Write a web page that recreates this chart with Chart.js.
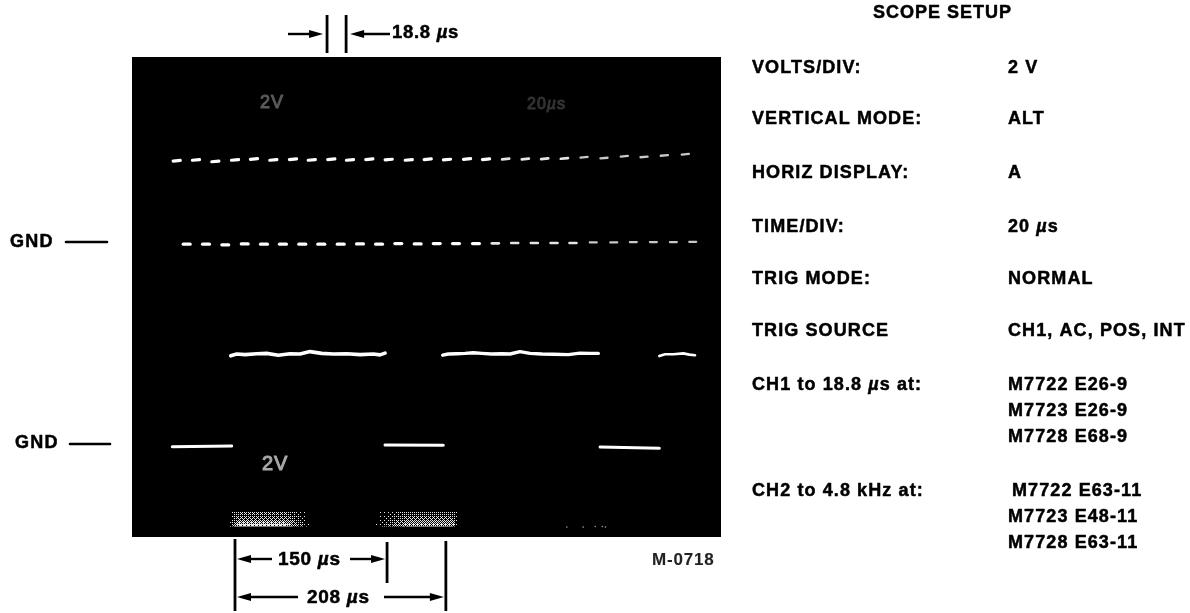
<!DOCTYPE html>
<html>
<head>
<meta charset="utf-8">
<style>
  html, body { margin: 0; padding: 0; background: #fff; overflow: hidden; }
  canvas { display: block; }
</style>
<script src="https://cdn.jsdelivr.net/npm/chart.js@4"></script>
</head>
<body>
<canvas id="myChart" width="1190" height="613"></canvas>
<script>
// CH1 square wave on the top, 18.8 us ticks (dash centres in us, levels in V)
const ch1HighTimes = [45.1, 64.1, 83.2, 102.6, 121.3, 140.4, 159.8, 178.3, 197.6, 216, 235.1, 254.2, 274, 292.7, 311.7, 331.5, 350.2, 369.6, 389, 408.1, 427.5, 446.9, 466.6, 486.6, 506.1, 526.1, 546.8];
const ch1HighVolts = [12.54, 12.57, 12.52, 12.57, 12.6, 12.57, 12.59, 12.57, 12.59, 12.57, 12.59, 12.58, 12.57, 12.59, 12.58, 12.6, 12.59, 12.6, 12.6, 12.61, 12.62, 12.66, 12.63, 12.69, 12.67, 12.72, 12.76];
const ch1LowTimes = [54.9, 74, 93, 112.2, 131.2, 149.9, 169, 187.7, 206.9, 225.9, 244.7, 263.7, 282.8, 301.6, 320.6, 340.3, 359.4, 378.5, 397.9, 417.3, 436, 456, 476.2, 495.5, 515.3, 535, 554.1];
const ch1LowVolts = [9.76, 9.76, 9.74, 9.77, 9.76, 9.76, 9.76, 9.76, 9.76, 9.77, 9.76, 9.78, 9.77, 9.78, 9.78, 9.78, 9.79, 9.8, 9.8, 9.8, 9.8, 9.82, 9.82, 9.83, 9.83, 9.83, 9.84];

// CH2 pulses, high parts are a bit wavy
const pulse1Times = [98.4, 104.3, 112.5, 124, 133.9, 145.3, 156.9, 166.7, 176.6, 188.1, 199.6, 212.8, 225.9, 239, 245.6, 250.6];
const pulse1Volts = [6.04, 6.1, 6.08, 6.11, 6.12, 6.06, 6.11, 6.1, 6.18, 6.12, 6.1, 6.11, 6.08, 6.1, 6.07, 6.13];
const pulse2Times = [307.5, 313, 321.3, 329.5, 337.7, 346, 355.8, 365.7, 373.9, 383.7, 393.6, 405.2, 416.6, 431.4, 442.9, 452.8, 461];
const pulse2Volts = [6.06, 6.1, 6.11, 6.12, 6.14, 6.12, 6.1, 6.11, 6.1, 6.18, 6.12, 6.1, 6.09, 6.08, 6.13, 6.12, 6.12];
const pulse3Times = [521.2, 526.8, 535, 544.8, 550.8, 556.4];
const pulse3Volts = [6.03, 6.09, 6.09, 6.12, 6.08, 6.06];

const low1Times = [40.7, 99.3];
const low1Volts = [3.01, 3.03];
const low2Times = [250.6, 308.1];
const low2Volts = [3.07, 3.06];
const low3Times = [462.7, 521.2];
const low3Volts = [3.0, 2.96];

// smeared patches at the bottom of the screen
const band1Times = [96, 176];
const band2Times = [240, 322];
const bandLowVolts = [0.35, 0.35];
const bandHighVolts = [0.83, 0.83];
const speckTimes = [430, 446, 458, 465, 468];
const speckVolts = [0.33, 0.33, 0.35, 0.35, 0.33];

const markEdge = 102.6;
const markWidths = [150, 208];
const tickEdge = 193.4;
const tickWidth = 18.8;

const setupTitle = 'SCOPE SETUP';
const setupLabels = ['VOLTS/DIV:', 'VERTICAL MODE:', 'HORIZ DISPLAY:', 'TIME/DIV:', 'TRIG MODE:', 'TRIG SOURCE', 'CH1 to 18.8 µs at:', 'CH2 to 4.8 kHz at:'];
const setupValues = ['2 V', 'ALT', 'A', '20 µs', 'NORMAL', 'CH1, AC, POS, INT', 'M7722 E26-9', 'M7723 E26-9', 'M7728 E68-9', 'M7722 E63-11', 'M7723 E48-11', 'M7728 E63-11'];
const labelRows = [68, 119, 173, 227, 279, 331, 385, 491];
const valueRows = [68, 119, 173, 227, 279, 331, 385, 411, 437, 491, 517, 543];

function points(times, volts) {
    return times.map((t, i) => ({ x: t, y: volts[i] }));
}

// every tick becomes a short line with a gap behind it
function dashes(times, volts, half, tilt) {
    const out = [];
    times.forEach((t, i) => {
        out.push({ x: t - half, y: volts[i] - tilt });
        out.push({ x: t + half, y: volts[i] + tilt });
        out.push({ x: t, y: null });
    });
    return out;
}

function trace(data, width, extra) {
    return Object.assign({
        data: data,
        borderColor: '#fff',
        borderWidth: width,
        borderCapStyle: 'round',
        borderJoinStyle: 'round',
        pointRadius: 0,
        tension: 0,
        spanGaps: false,
        fill: false
    }, extra || {});
}

// right side of the CH1 ticks is fainter on the photo
const fading = {
    borderColor: c => c.p0.parsed.x > 440 ? '#c8c8c8' : c.p0.parsed.x > 350 ? '#e4e4e4' : '#fff',
    borderWidth: c => c.p0.parsed.x > 440 ? 2.3 : c.p0.parsed.x > 350 ? 2.7 : 3.2
};

const bayer = [[0, 8, 2, 10], [12, 4, 14, 6], [3, 11, 1, 9], [15, 7, 13, 5]];

// screened patch: ordered dither, brighter to the bottom, fades at the sides
function screenFill(times, fadeIn, fadeOut, level) {
    let pattern = null;
    return c => {
        const chart = c.chart;
        if (!chart.chartArea) return '#888';
        if (pattern) return pattern;
        const left = chart.scales.x.getPixelForValue(times[0]);
        const right = chart.scales.x.getPixelForValue(times[1]);
        const top = chart.scales.y.getPixelForValue(bandHighVolts[0]);
        const bottom = chart.scales.y.getPixelForValue(bandLowVolts[0]);
        const cv = document.createElement('canvas');
        cv.width = chart.width;
        cv.height = chart.height;
        const px = cv.getContext('2d');
        for (let y = Math.floor(top); y <= Math.ceil(bottom); y++) {
            for (let x = Math.floor(left); x <= Math.ceil(right); x++) {
                const u = (x - left) / (right - left);
                const k = (y - top) / (bottom - top);
                const side = Math.max(0, Math.min(1, u / fadeIn, (1 - u) / fadeOut));
                const amount = side * level * (0.3 + 0.7 * k * k);
                if (amount * 16 > bayer[y % 4][x % 4] + 0.5) {
                    px.fillStyle = '#e8e8e8';
                    px.fillRect(x, y, 1, 1);
                }
            }
        }
        pattern = chart.ctx.createPattern(cv, 'no-repeat');
        return pattern;
    };
}

function band(times, fadeIn, fadeOut, level) {
    const edge = { borderWidth: 0, pointRadius: 0 };
    return [
        Object.assign({ data: points(times, bandHighVolts), fill: '+1', backgroundColor: screenFill(times, fadeIn, fadeOut, level) }, edge),
        Object.assign({ data: points(times, bandLowVolts), fill: false }, edge)
    ];
}

// text with an italic mu, like the original lettering
function drawText(ctx, text, x, y, size, spacing, opts) {
    const o = opts || {};
    const weight = o.weight || 'bold';
    ctx.fillStyle = o.color || '#000';
    ctx.strokeStyle = o.color || '#000';
    ctx.lineWidth = o.stroke === undefined ? 0.5 : o.stroke;
    ctx.lineJoin = 'round';
    ctx.textAlign = 'left';
    ctx.textBaseline = 'middle';
    ctx.letterSpacing = spacing + 'px';
    let pos = x;
    text.split(/(µ)/).forEach(part => {
        if (!part) return;
        ctx.font = (part === 'µ' ? 'italic ' : '') + weight + ' ' + size + 'px "Liberation Sans"';
        ctx.fillText(part, pos, y);
        if (ctx.lineWidth > 0) ctx.strokeText(part, pos, y);
        pos += ctx.measureText(part).width;
    });
    ctx.letterSpacing = '0px';
}

function arrow(ctx, from, tip, y) {
    const dir = tip > from ? 1 : -1;
    ctx.strokeStyle = '#000';
    ctx.lineWidth = 2.4;
    ctx.beginPath();
    ctx.moveTo(from, y);
    ctx.lineTo(tip - dir * 6, y);
    ctx.stroke();
    ctx.fillStyle = '#000';
    ctx.beginPath();
    ctx.moveTo(tip, y);
    ctx.lineTo(tip - dir * 14, y - 4);
    ctx.lineTo(tip - dir * 14, y + 4);
    ctx.closePath();
    ctx.fill();
}

function vline(ctx, x, y0, y1) {
    ctx.strokeStyle = '#000';
    ctx.lineWidth = 2.8;
    ctx.beginPath();
    ctx.moveTo(x, y0);
    ctx.lineTo(x, y1);
    ctx.stroke();
}

function hline(ctx, x0, x1, y) {
    ctx.strokeStyle = '#000';
    ctx.lineWidth = 2.6;
    ctx.lineCap = 'round';
    ctx.beginPath();
    ctx.moveTo(x0, y);
    ctx.lineTo(x1, y);
    ctx.stroke();
    ctx.lineCap = 'butt';
}

const screenPlugin = {
    id: 'screen',
    beforeDraw(chart) {
        const a = chart.chartArea;
        chart.ctx.fillStyle = '#000';
        chart.ctx.fillRect(a.left, a.top, a.right - a.left, a.bottom - a.top);
    },
    afterDraw(chart) {
        const ctx = chart.ctx;
        const x = chart.scales.x;
        ctx.save();

        // readouts on the screen
        drawText(ctx, '2V', 260, 103, 18, 1, { weight: 'normal', color: '#5a5a5a', stroke: 0 });
        drawText(ctx, '2V', 262, 464, 20, 1, { weight: 'normal', color: '#a8a8a8', stroke: 0 });
        drawText(ctx, '20µs', 527, 105, 16, 1, { weight: 'normal', color: '#333', stroke: 0 });

        // 18.8 us marker
        const t0 = x.getPixelForValue(tickEdge);
        const t1 = x.getPixelForValue(tickEdge + tickWidth);
        vline(ctx, t0, 15, 53);
        vline(ctx, t1, 15, 53);
        arrow(ctx, 288, t0 - 4, 34);
        arrow(ctx, 390, t1 + 4, 34);
        drawText(ctx, '18.8 µs', 392, 33, 18.5, 0.7);

        // pulse width and period markers
        const m0 = x.getPixelForValue(markEdge);
        const m1 = x.getPixelForValue(markEdge + markWidths[0]);
        const m2 = x.getPixelForValue(markEdge + markWidths[1]);
        vline(ctx, m0, 539, 611);
        vline(ctx, m1, 542, 583);
        vline(ctx, m2, 541, 611);
        arrow(ctx, 272, m0 + 2, 559);
        arrow(ctx, 350, m1 - 2, 559);
        drawText(ctx, markWidths[0] + ' µs', 278, 560, 19, 0.7);
        arrow(ctx, 298, m0 + 2, 597);
        arrow(ctx, 384, m2 - 2, 597);
        drawText(ctx, markWidths[1] + ' µs', 307, 598, 19, 0.7);

        drawText(ctx, 'M-0718', 652, 560, 17, 0.8, { stroke: 0.1, color: '#222' });

        // ground references
        drawText(ctx, 'GND', 10, 242, 18, 1.3);
        hline(ctx, 66, 107, 242);
        drawText(ctx, 'GND', 15, 443, 18, 1.3);
        hline(ctx, 70, 110, 444);

        // setup table
        drawText(ctx, setupTitle, 873, 13, 18, 1);
        setupLabels.forEach((s, i) => drawText(ctx, s, 752, labelRows[i], 18, 1.1));
        setupValues.forEach((s, i) => drawText(ctx, s, i === 9 ? 1012 : 1008, valueRows[i], 18, 1.1));
        ctx.restore();
    }
};

const ctx = document.getElementById('myChart').getContext('2d');
const myChart = new Chart(ctx, {
    type: 'line',
    data: {
        datasets: [
            trace(dashes(ch1HighTimes, ch1HighVolts, 3.5, 0.012), 3.2, { segment: fading }),
            trace(dashes(ch1LowTimes, ch1LowVolts, 3.4, 0), 3.2, { segment: fading }),
            trace(points(pulse1Times, pulse1Volts), 3.6),
            trace(points(pulse2Times, pulse2Volts), 3.4),
            trace(points(pulse3Times, pulse3Volts), 2.6),
            trace(points(low1Times, low1Volts), 3),
            trace(points(low2Times, low2Volts), 3),
            trace(points(low3Times, low3Volts), 3),
            ...band(band1Times, 0.12, 0.3, 0.95),
            ...band(band2Times, 0.4, 0.06, 0.8),
            { data: points(speckTimes, speckVolts), showLine: false, pointRadius: 0.8, pointBackgroundColor: '#999', pointBorderWidth: 0 }
        ]
    },
    options: {
        responsive: false,
        animation: false,
        layout: { padding: { left: 132, right: 469, top: 57, bottom: 76 } },
        plugins: { legend: { display: false }, tooltip: { enabled: false } },
        scales: {
            x: { type: 'linear', display: false, min: 1, max: 582 },
            y: { display: false, min: 0, max: 16 }
        }
    },
    plugins: [screenPlugin]
});
</script>
</body>
</html>
